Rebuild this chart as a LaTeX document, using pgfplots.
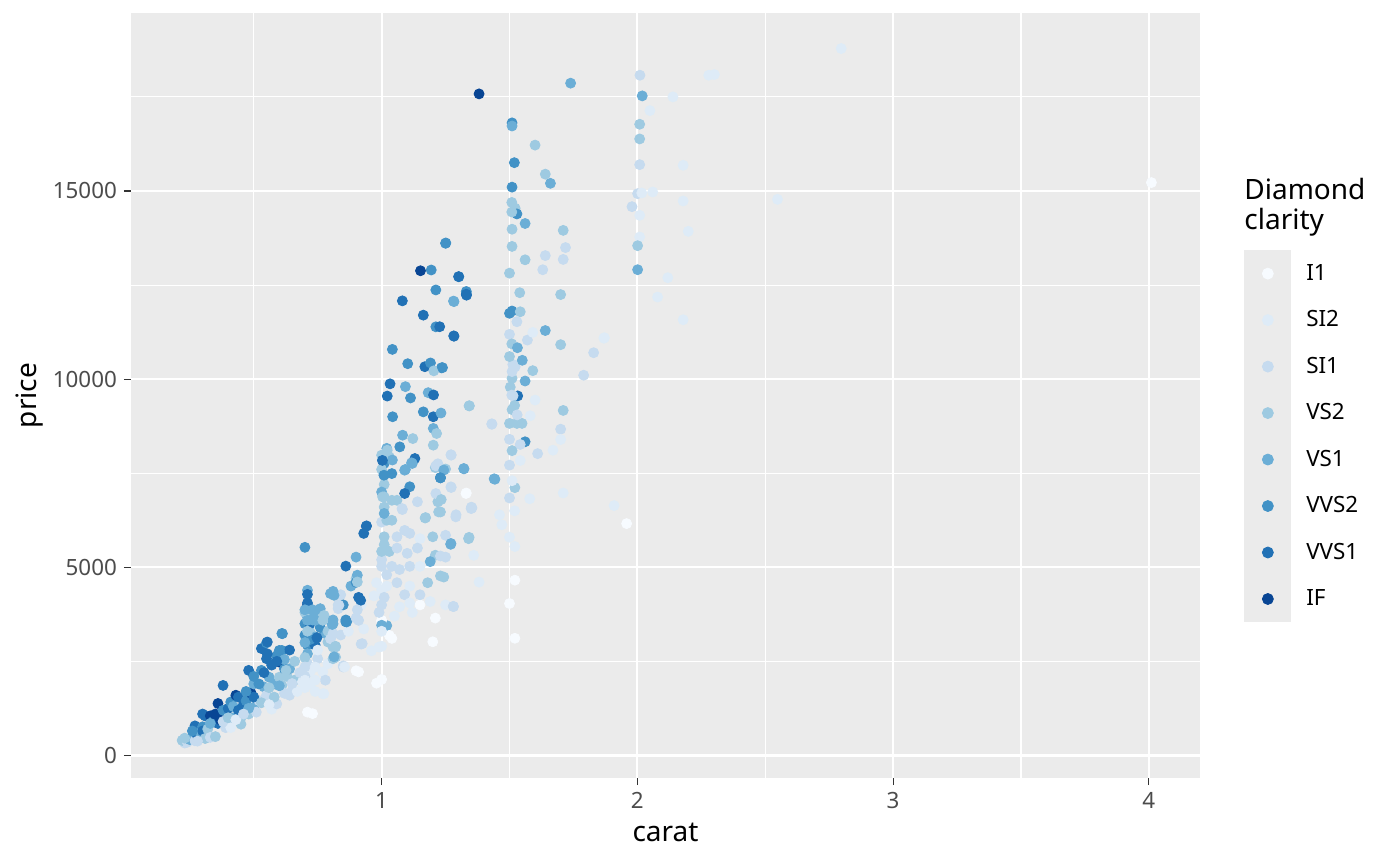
\documentclass[border=0pt]{standalone}
\usepackage{fontspec}
\setmainfont{Noto Sans}
\usepackage{pgfplots}
\pgfplotsset{compat=1.18}

\definecolor{cI1}{HTML}{F7FBFF}
\definecolor{cSI2}{HTML}{DEEBF7}
\definecolor{cSI1}{HTML}{C6DBEF}
\definecolor{cVS2}{HTML}{9ECAE1}
\definecolor{cVS1}{HTML}{6BAED6}
\definecolor{cVVS2}{HTML}{4292C6}
\definecolor{cVVS1}{HTML}{2171B5}
\definecolor{cIF}{HTML}{084594}
\definecolor{panel}{HTML}{EBEBEB}

% carat / price / clarity
\pgfplotstableread{
x y c
0.23 330 SI1
0.22 400 VS2
0.24 350 SI1
0.25 420 VS1
0.26 480 VS1
0.23 460 VS2
0.27 390 SI1
0.28 520 VVS1
0.27 785 VVS1
0.30 760 VVS2
0.29 600 VS1
0.30 650 VVS1
0.31 1050 VVS1
0.30 1100 VVS1
0.32 700 VS2
0.31 450 VS2
0.33 1050 IF
0.33 480 SI1
0.34 900 VVS2
0.35 960 IF
0.36 850 VVS1
0.37 940 IF
0.35 1100 IF
0.36 1380 IF
0.38 1200 VVS2
0.39 740 SI1
0.40 780 SI1
0.41 740 SI2
0.38 1860 VVS1
0.40 1250 VVS1
0.41 1420 VVS2
0.42 1300 VS1
0.43 1600 IF
0.44 1550 VVS1
0.45 1000 VS2
0.45 830 VS2
0.46 1350 VVS1
0.47 1450 VVS2
0.48 2260 VVS1
0.48 1100 VS2
0.49 1650 IF
0.50 1900 VS1
0.50 1280 VS1
0.51 1150 SI1
0.52 1460 SI1
0.53 2840 VVS1
0.53 2260 VVS2
0.54 1820 VS1
0.55 2990 VVS2
0.55 2570 VVS1
0.55 1600 SI1
0.56 2080 VS1
0.57 1230 SI2
0.58 1900 VS1
0.59 1370 SI1
0.60 2480 IF
0.60 2080 VS2
0.61 1860 VS2
0.61 3240 VVS2
0.61 2790 VVS2
0.62 2300 VVS2
0.63 2100 VS2
0.64 1600 SI1
0.64 2800 VVS1
0.65 1730 SI1
0.66 2000 VS2
0.67 1700 SI2
0.52 1900 VVS2
0.45 1150 VVS2
0.42 1000 VS1
0.48 1250 VS1
0.50 1550 VVS1
0.33 850 VS1
0.38 900 SI1
0.40 1000 VS2
0.44 1200 VVS1
0.57 2400 VVS1
0.58 1550 VS2
0.62 1650 SI1
0.26 650 VVS2
0.28 380 SI1
0.35 500 VS2
0.43 950 SI2
0.46 1100 SI1
0.53 1400 VS2
0.56 1350 SI2
0.60 1850 VS1
0.54 2200 VVS1
0.50 2100 VVS2
0.47 1700 VVS2
0.59 2650 VVS2
0.62 2550 VS1
0.64 2300 VS1
0.66 2500 VS2
0.68 2200 SI1
0.69 1950 SI2
0.56 1800 VS2
0.553 3014 VVS1
0.612 3236 VVS2
0.553 2700 VVS1
0.60 2790 VVS2
0.59 2500 VVS1
0.626 2260 VS2
0.65 1910 SI1
0.70 5530 VVS2
0.71 3990 IF
0.71 4390 VS1
0.71 4280 VVS1
0.76 3900 VS1
0.75 3720 VS1
0.71 3680 VS1
0.70 3500 VVS2
0.72 3280 VS2
0.74 3150 VS1
0.78 3240 VS1
0.81 3500 VS1
0.775 3720 VS2
0.83 3900 SI1
0.86 3550 VVS2
0.71 2930 VVS2
0.74 2930 VVS1
0.72 3080 VVS2
0.71 2700 VS1
0.79 3015 VS2
0.81 2880 VS2
0.82 2610 VS2
0.71 2440 SI1
0.75 2570 SI1
0.79 2440 SI2
0.85 2350 SI1
0.72 2220 SI2
0.77 2220 SI2
0.77 1640 SI2
0.72 1900 SI2
0.71 1150 I1
0.73 1110 I1
0.91 2220 I1
0.70 3800 VS2
0.70 3200 VVS2
0.70 3000 VS1
0.70 2600 VS2
0.70 2100 SI1
0.70 1800 SI2
0.72 3500 VVS1
0.73 3600 VS1
0.76 3400 VVS2
0.79 3300 VS2
0.80 3100 SI1
0.84 3200 SI1
0.80 4300 VS1
0.84 4270 SI1
0.85 4000 VVS2
0.86 5030 VVS1
0.90 5270 VS1
0.93 5900 VVS1
0.94 6090 VVS1
0.90 4700 VS2
0.91 4200 VVS1
0.81 4360 VS1
0.81 3600 VS1
0.86 3600 VVS2
0.83 4000 SI1
0.90 3650 SI1
0.93 3360 SI2
0.82 2900 VS2
0.81 2570 VS2
0.85 2380 SI1
0.90 2250 I1
0.92 2960 SI1
0.81 3240 SI1
0.96 2780 SI2
0.88 4500 VS1
0.90 4600 VVS2
0.92 4000 SI2
0.87 3300 SI2
0.75 2800 SI2
0.78 2000 SI1
0.74 1700 SI2
0.905 4790 VS1
0.905 4610 VS2
0.918 4120 VVS1
0.905 3870 SI1
0.91 3590 SI1
0.924 2970 SI1
0.863 3546 VVS2
0.833 3990 SI1
0.814 4255 VS1
0.71 4050 VVS1
0.70 3870 VS1
0.73 3870 VS1
0.768 3650 VS2
0.71 3590 VS1
0.74 3590 VS1
0.77 3590 VS2
0.71 3300 VS2
0.807 3480 VS1
0.747 3130 VVS1
0.82 2880 VS2
0.814 2620 VS1
0.855 2350 SI2
0.70 2350 SI1
0.74 2350 SI2
0.70 2000 SI2
0.74 2000 SI2
0.774 1640 SI2
0.98 1920 I1
1.00 2020 I1
1.00 3560 I1
1.02 3450 VS1
1.04 3110 I1
1.00 2900 SI2
1.20 3020 I1
1.21 3650 I1
1.15 4000 I1
1.00 3590 I1
1.03 3190 I1
0.99 2880 SI2
1.00 3460 VS1
1.02 8160 VS1
1.00 7980 VS2
1.03 7935 VS2
1.13 7890 VVS1
1.12 7760 VS1
1.09 7580 VS1
1.01 7760 VVS2
1.01 7450 VVS2
1.04 7490 VVS2
1.11 7140 VVS2
1.09 6960 VVS1
1.21 7650 VS2
1.23 7380 VVS2
1.22 7750 SI1
1.25 7610 VS2
1.00 7600 VS2
1.01 7200 VS2
1.00 7000 VS1
1.01 6600 VS2
1.00 6200 SI1
1.01 5600 VS2
1.00 5200 SI1
1.02 4800 SI1
1.00 4400 SI2
1.01 4200 SI1
1.01 6870 VS2
1.04 6780 VS2
1.06 6780 VS2
1.08 6560 SI1
1.14 6740 SI1
1.17 6310 VS2
1.22 6740 VS2
1.23 6470 VS2
1.29 6340 SI1
1.33 6960 I1
1.35 6560 SI1
1.27 5610 VS1
1.20 5810 VS2
1.34 5760 VS2
1.25 5850 SI1
1.01 5810 VS2
1.02 6250 VS2
1.01 6430 VS1
1.04 6250 VS2
1.06 5810 SI1
1.09 5980 SI1
1.11 5900 SI1
1.15 5760 SI2
1.00 5420 VS2
1.03 5420 VS2
1.06 5510 SI1
1.10 5370 SI1
1.14 5510 SI1
1.21 5320 VS2
1.25 5270 SI1
1.19 5150 VS1
1.00 5025 SI1
1.04 5025 SI1
1.07 4940 SI1
1.11 5025 SI1
1.15 5025 SI2
1.18 4590 VS2
1.23 4770 VS2
0.98 4590 SI2
1.02 4500 SI2
1.06 4590 SI1
1.11 4500 SI2
1.15 4270 SI1
1.09 4270 SI1
1.19 4090 SI2
1.25 4000 SI2
1.28 3960 SI1
1.07 3950 SI2
1.11 4050 SI2
0.97 4240 SI2
1.00 3300 SI2
1.05 3700 SI2
1.12 3800 SI2
1.00 4000 SI1
0.99 3800 SI1
1.250 13610 VVS2
1.152 12880 IF
1.194 12900 VVS2
1.302 12720 VVS2
1.212 12370 VVS2
1.332 12320 VS2
1.332 12230 VVS1
1.283 12060 VS1
1.081 12080 VVS1
1.163 11700 VVS1
1.212 11390 VVS2
1.283 11140 VVS1
1.042 10790 VVS2
1.102 10410 VVS2
1.169 10330 VVS1
1.191 10430 VVS2
1.234 10300 VVS2
1.204 10220 VS2
1.033 9875 VVS1
1.022 9550 VVS1
1.093 9800 VS1
1.113 9500 VVS2
1.182 9640 VS1
1.203 9580 VVS1
1.343 9290 VS2
1.043 9000 VVS2
1.163 9130 VVS2
1.202 9000 VVS1
1.232 9100 VS1
1.431 8800 SI1
1.082 8510 VS1
1.122 8420 VS2
1.202 8690 VS1
1.215 8555 VS2
1.202 8245 VS2
1.022 8110 VS2
1.071 8200 VVS2
1.042 7850 VS1
1.003 7840 VVS1
1.117 7775 VS1
1.093 7600 VS1
1.272 7980 SI1
1.212 7695 SI1
1.322 7615 VS1
1.230 7376 VVS2
1.009 7447 VVS2
1.443 7340 VS1
1.272 7120 SI1
1.212 6960 SI1
1.233 6800 VS2
1.353 6577 SI1
1.081 6534 SI1
1.004 6870 VS2
1.172 6320 VS2
1.223 6470 VS2
0.941 6100 VVS1
1.381 17580 IF
1.739 17865 VS1
1.510 16810 VVS2
1.510 16727 VS1
1.600 16219 VS2
1.519 15752 VVS2
1.640 15447 VS2
1.660 15203 VS1
1.510 15102 VVS2
1.509 14695 VS2
1.522 14543 VS2
1.529 14390 VVS2
1.509 14441 VS2
1.561 14136 VS1
1.710 13953 VS2
1.510 13984 VS2
1.719 13496 SI1
1.510 13527 VS2
1.561 13171 VS2
1.640 13283 SI1
1.710 13181 SI1
1.630 12907 SI1
1.500 12816 VS2
1.251 13618 VVS2
1.301 12724 VVS1
1.331 12328 VVS2
1.331 12257 VVS1
1.281 12074 VS1
1.282 11149 VVS1
1.227 11393 VVS1
1.238 10306 VVS2
1.540 12297 VS2
1.700 12247 VS2
1.500 11749 VVS2
1.510 11810 VVS2
1.542 11790 VS2
1.529 11525 SI1
1.640 11291 VS1
1.500 11190 SI1
1.570 11038 SI1
1.591 11241 SI2
1.509 10936 VS2
1.531 10834 VS1
1.700 10916 VS2
1.869 11088 SI2
1.829 10702 SI1
1.522 10326 SI1
1.591 10225 VS2
1.561 9950 VS1
1.510 10022 VS2
1.503 9788 VS2
1.532 9554 VVS1
1.509 9575 SI1
1.600 9443 SI2
1.790 10103 SI1
1.510 9188 VS2
1.710 9168 VS2
1.500 8823 VS2
1.529 8823 VS2
1.549 8823 VS2
1.431 8813 SI1
1.342 9290 VS2
1.581 9026 SI2
1.561 8335 VVS2
1.542 8264 SI1
1.700 8670 SI1
1.700 8396 SI2
1.510 8091 SI2
1.610 8020 SI1
1.670 8111 SI2
1.542 7837 SI2
1.500 7715 SI1
1.521 7116 VS2
1.500 6842 SI1
1.579 6821 SI2
1.710 6974 SI2
1.440 7350 VS1
1.321 7624 VS1
1.342 5795 VS2
1.360 5318 SI2
1.521 5551 SI2
1.909 6639 SI2
1.958 6161 I1
1.461 6395 SI2
1.470 6130 SI2
1.521 4657 I1
1.500 4037 I1
1.521 3113 I1
1.381 4606 SI2
1.281 3956 SI1
1.271 7990 SI1
1.271 7137 SI1
1.291 6395 SI1
1.351 6598 SI1
1.331 6974 I1
1.271 5632 VS1
1.243 7583 VS1
1.230 7380 VVS2
1.243 4740 VS2
1.230 5300 SI1
1.514 9556 SI1
1.513 10390 SI1
1.50 10600 VS2
1.51 10200 SI1
1.52 9300 VS2
1.50 8400 SI1
1.51 7300 SI2
1.52 6500 SI2
1.50 5800 SI2
1.51 8100 VS2
1.53 9050 SI1
1.55 10500 VS1
2.010 18076 SI1
2.019 17527 VS1
2.139 17500 SI2
2.049 17136 SI2
2.009 16773 VS2
2.009 16383 VS2
2.009 15700 SI1
2.179 15683 SI2
2.001 14929 SI1
2.017 14947 SI2
2.060 14973 SI2
2.179 14734 SI2
1.979 14583 SI1
2.009 14353 SI2
2.548 14778 SI2
2.199 13927 SI2
2.009 13777 SI2
2.001 13546 VS2
2.001 12908 VS1
2.119 12695 SI2
2.079 12181 SI2
2.179 11578 SI2
1.871 11099 SI2
2.279 18076 SI2
2.301 18094 SI2
2.797 18785 SI2
4.010 15223 I1
}\diamonds

\begin{document}
\begin{tikzpicture}[x=1pt,y=1pt]
\path[use as bounding box] (0,0) rectangle (700,433);
\begin{axis}[
  at={(65.5pt,44pt)}, anchor=south west,
  scale only axis, width=534.5pt, height=382.5pt,
  xmin=0.02, xmax=4.2, ymin=-600, ymax=19730,
  axis background/.style={fill=panel},
  axis line style={draw=none},
  xtick={1,2,3,4}, xticklabels={1,2,3,4},
  ytick={0,5000,10000,15000}, yticklabels={0,5000,10000,15000},
  minor xtick={0.5,1.5,2.5,3.5}, minor ytick={2500,7500,12500,17500},
  grid=both,
  major grid style={white, line width=1.1pt},
  minor grid style={white, line width=0.55pt},
  tick align=outside, tick pos=left,
  major tick length=3.5pt, minor tick length=0pt,
  every tick/.style={color=black!80, line width=0.55pt},
  tick label style={font=\fontsize{11.2}{13}\selectfont, color=black!70},
  xlabel={carat}, ylabel={price},
  label style={font=\fontsize{14}{16}\selectfont},
  xlabel style={at={(axis description cs:0.5,-0.0706)}, anchor=center},
  ylabel style={at={(axis description cs:-0.0945,0.5)}, anchor=center},
  legend style={at={(axis description cs:1.0412,0.6902)}, anchor=north west,
    draw=none, fill=none, inner sep=0pt, row sep=0pt,
    font=\fontsize{11.2}{13}\selectfont,
    nodes={inner sep=0pt},
    /tikz/every odd column/.append style={column sep=7.5pt}},
  legend cell align=left,
  legend image code/.code={%
    \fill[panel] (0pt,-11.42pt) rectangle (23pt,11.42pt);
    \fill (11.5pt,0pt) circle (2.75pt);},
]
\addlegendimage{color=cI1}\addlegendentry{I1}
\addlegendimage{color=cSI2}\addlegendentry{SI2}
\addlegendimage{color=cSI1}\addlegendentry{SI1}
\addlegendimage{color=cVS2}\addlegendentry{VS2}
\addlegendimage{color=cVS1}\addlegendentry{VS1}
\addlegendimage{color=cVVS2}\addlegendentry{VVS2}
\addlegendimage{color=cVVS1}\addlegendentry{VVS1}
\addlegendimage{color=cIF}\addlegendentry{IF}
\addplot[scatter, only marks, forget plot, mark=*, mark size=2.5pt,
  scatter src=explicit symbolic,
  scatter/classes={
    I1={cI1}, SI2={cSI2}, SI1={cSI1}, VS2={cVS2},
    VS1={cVS1}, VVS2={cVVS2}, VVS1={cVVS1}, IF={cIF}}]
  table[x=x, y=y, meta=c] {\diamonds};
\end{axis}
\node[anchor=base west, align=left, font=\fontsize{14}{15}\selectfont, inner sep=0pt]
  at (622,318) {Diamond\\clarity};
\end{tikzpicture}
\end{document}
